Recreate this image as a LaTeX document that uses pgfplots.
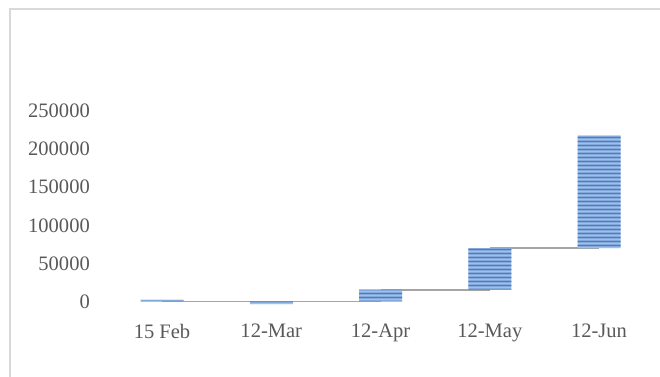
\documentclass[border=0pt]{standalone}
\usepackage{fontspec}
\setmainfont{Liberation Serif}
\usepackage{pgfplots}
\pgfplotsset{compat=1.18}
\usetikzlibrary{patterns}
\pgfdeclarepatternformonly{hstripes}{\pgfpoint{0pt}{0pt}}{\pgfpoint{1000pt}{2.6pt}}{\pgfpoint{1000pt}{2.6pt}}{%
  \pgfpathrectangle{\pgfpoint{0pt}{0.6pt}}{\pgfpoint{1000pt}{1.4pt}}\pgfusepath{fill}}
\definecolor{framegray}{HTML}{D9D9D9}
\definecolor{conngray}{HTML}{A5A5A5}
\definecolor{txtgray}{HTML}{595959}
\definecolor{barlight}{HTML}{A3C0E8}
\definecolor{bardark}{HTML}{4A7CC8}
\pgfplotsset{
  base/.style={
    at={(80.55pt,50.2pt)}, anchor=south west,
    scale only axis, width=409.7pt, height=148.55pt,
    xmin=-0.5, xmax=4.5, ymin=-10000, ymax=250000,
  }
}
\begin{document}
\begin{tikzpicture}
\useasboundingbox (0,0) rectangle (495pt,282pt);
\draw[framegray, line width=1.2pt] (7.5pt,-5pt) -- (7.5pt,275.25pt) -- (500pt,275.25pt);
\begin{axis}[base,
  axis line style={draw=none}, major tick length=0pt,
  xtick={0,1,2,3,4},
  xticklabels={15 Feb,12-Mar,12-Apr,12-May,12-Jun},
  ytick={0,50000,100000,150000,200000,250000},
  scaled y ticks=false,
  yticklabel={\pgfmathprintnumber[fixed,1000 sep={}]{\tick}},
  /pgf/number format/assume math mode=true,
  ticklabel style={font=\fontsize{15.4}{18}\selectfont, text=txtgray, inner sep=0pt},
  yticklabel style={anchor=east, xshift=-13pt},
  xticklabel style={anchor=north, yshift=-11pt},
]
\addplot[conngray, line width=1.4pt] coordinates {(0,0) (2,0)};
\addplot[conngray, line width=1.4pt] coordinates {(2,15500) (3,15500)};
\addplot[conngray, line width=1.4pt] coordinates {(3,70000) (4,70000)};
\end{axis}
\begin{axis}[base, hide axis, ybar stacked, bar width=32.25pt]
\addplot[draw=none, fill=none] coordinates {(0,0) (1,0) (2,0) (3,15500) (4,70000)};
\addplot[draw=none, fill=barlight,
  postaction={pattern=hstripes, pattern color=bardark}]
  coordinates {(0,2500) (1,-3500) (2,15500) (3,54500) (4,148000)};
\end{axis}
\end{tikzpicture}
\end{document}
